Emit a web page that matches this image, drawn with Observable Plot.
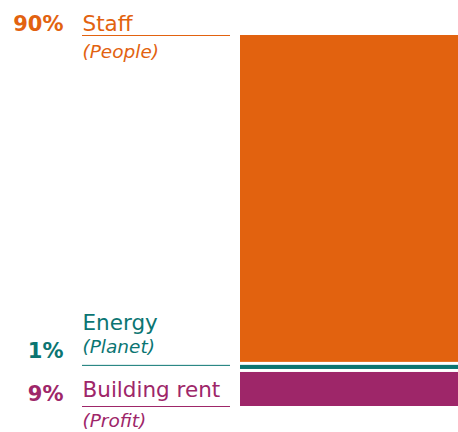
<!DOCTYPE html>
<html><head><meta charset="utf-8">
<script src="https://cdn.jsdelivr.net/npm/d3@7"></script>
<script src="https://cdn.jsdelivr.net/npm/@observablehq/plot@0.6"></script>
<style>body{margin:0;background:#fff}</style>
</head><body><div id="chart"></div>
<script>
// Data (bottom to top of the stacked bar)
const categories = ["Building rent", "Energy", "Staff"];
const subtitles = ["(Profit)", "(Planet)", "(People)"];
const percentLabels = ["9%", "1%", "90%"];
const shares = [9.9, 1.9, 88.2];
const colors = ["#9E2669", "#0B7572", "#E2620F"];

const data = categories.map((c, i) => ({category: c, subtitle: subtitles[i], pct: percentLabels[i], share: shares[i]}));
let acc = 0;
data.forEach(d => { d.lo = acc; acc += d.share; d.hi = acc; });
const total = acc;

// Layout (pixels)
const W = 458, H = 432, BAR_L = 240, BAR_R = 458, NAME_X = 82, RULE_R = 230, PCT_X = 63, INSET = 1.5;
const font = "'DejaVu Sans', sans-serif";
// per-category label placement: which edge the rule sits on, and baseline offsets from the rule
const place = {
  "Staff":         {edge: "hi", rule: INSET,  name: -5,  sub: 22,  pct: -5},
  "Energy":        {edge: "hi", rule: INSET,  name: -35, sub: -12, pct: -7},
  "Building rent": {edge: "lo", rule: -INSET, name: -10, sub: 20,  pct: -6}
};

const marks = [
  Plot.rectY(data, Plot.stackY({x1: BAR_L, x2: BAR_R, y: "share", fill: "category", insetTop: INSET, insetBottom: INSET}))
];
data.forEach(d => {
  const p = place[d.category];
  const one = [d];
  const yv = x => x[p.edge];
  marks.push(
    Plot.ruleY(one, {y: yv, x1: NAME_X, x2: RULE_R, stroke: "category", strokeWidth: 1, dy: p.rule}),
    Plot.text(one, {x: NAME_X, y: yv, text: "category", fill: "category", textAnchor: "start", lineAnchor: "bottom", fontSize: 21.5, fontFamily: font, dy: p.rule + p.name}),
    Plot.text(one, {x: NAME_X, y: yv, text: "subtitle", fill: "category", textAnchor: "start", lineAnchor: "bottom", fontSize: 18.5, fontStyle: "italic", fontFamily: font, dy: p.rule + p.sub}),
    Plot.text(one, {x: PCT_X, y: yv, text: "pct", fill: "category", textAnchor: "end", lineAnchor: "bottom", fontSize: 21, fontWeight: "bold", fontFamily: font, dy: p.rule + p.pct})
  );
});

const chart = Plot.plot({
  width: W, height: H,
  marginTop: 0, marginBottom: 0, marginLeft: 0, marginRight: 0,
  x: {domain: [0, W], range: [0, W], axis: null},
  y: {domain: [0, total], range: [406 + INSET, 35 - INSET], axis: null},
  color: {domain: categories, range: colors},
  style: {fontFamily: font, background: "#fff"},
  marks
});
document.getElementById("chart").append(chart);
</script>
</body></html>
